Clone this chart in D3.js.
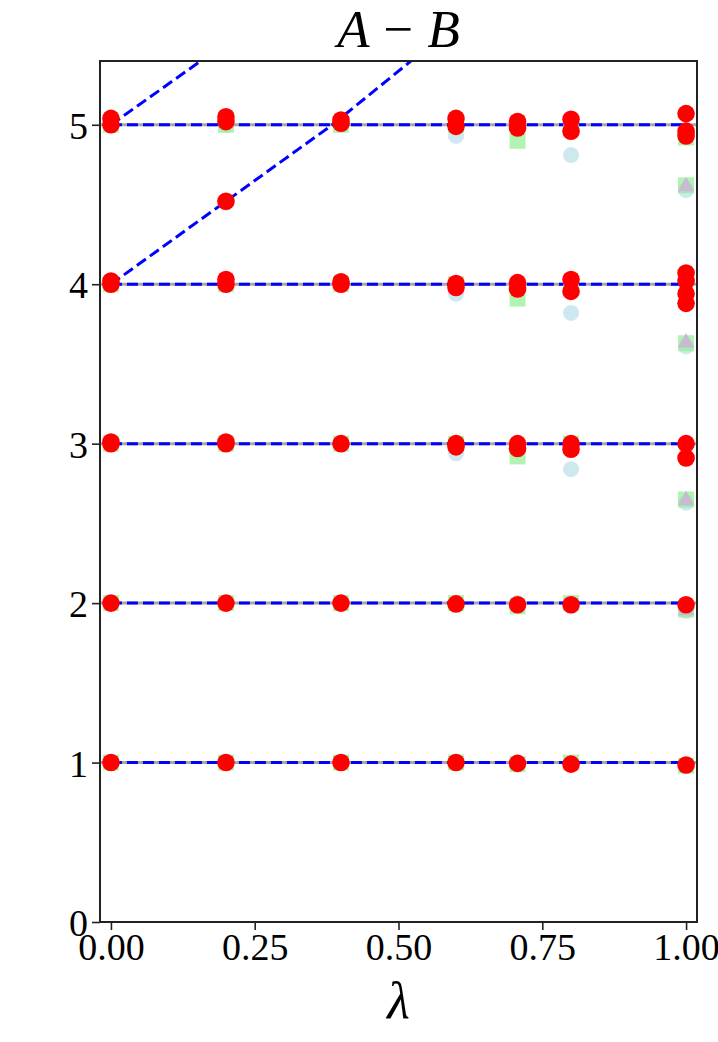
<!DOCTYPE html>
<html>
<head>
<meta charset="utf-8">
<script src="https://cdn.jsdelivr.net/npm/d3@7"></script>
<style>
  body { margin: 0; background: #fff; }
  svg { display: block; }
  text { font-family: "Liberation Serif", "Times New Roman", serif; }
</style>
</head>
<body>
<svg width="718" height="1042"></svg>
<script>
// lambda values of each column
var lambdas = [0, 0.2, 0.4, 0.6, 0.707, 0.8, 1.0];

// levels per column, one list per lambda
var redLevels = [
    [1.0, 2.0, 3.0, 3.01, 4.0, 4.02, 5.0, 5.04],
    [1.0, 2.0, 3.0, 3.01, 4.0, 4.03, 4.52, 5.02, 5.05],
    [1.0, 2.0, 3.0, 4.0, 4.015, 5.01, 5.03],
    [1.0, 1.995, 2.98, 3.0, 3.98, 4.005, 4.99, 5.04],
    [0.995, 1.99, 2.97, 3.0, 3.97, 4.01, 4.98, 5.02],
    [0.99, 1.99, 2.965, 3.0, 3.955, 4.03, 4.96, 5.035],
    [0.985, 1.99, 2.91, 3.0, 3.88, 3.94, 4.02, 4.07, 4.93, 4.96, 5.07]
];
var blueLevels = [
    [1, 2, 3, 4, 5],
    [1, 2, 3, 4, 4.51, 5],
    [1, 2, 3, 4, 5],
    [1, 2, 2.94, 3.94, 4.93],
    [1, 2, 3, 4, 5],
    [0.99, 1.98, 2.84, 3.82, 4.81],
    [0.98, 1.95, 2.63, 3.61, 4.59]
];
var greenLevels = [
    [1, 2, 3, 4, 5],
    [1, 2, 3, 4, 5],
    [1, 2, 3, 4, 5],
    [1, 2, 3, 4, 5],
    [0.99, 1.98, 2.92, 3.91, 4.9],
    [1, 2, 3, 4, 5],
    [0.98, 1.96, 2.65, 3.63, 4.62, 4.92]
];
var triangleLevels = [
    [], [], [], [], [], [],
    [1.96, 2.65, 3.64, 4.62]
];

// exact levels (flat) and the two rising branches
var flatLevels = [1, 2, 3, 4, 5];
var branchUpper = [[0, 5.0], [0.16, 5.41]];
var branchLower = [[0, 4.0], [0.2, 4.52], [0.385, 5.0], [0.525, 5.41]];

var xTicks = [0, 0.25, 0.5, 0.75, 1.0];
var yTicks = [0, 1, 2, 3, 4, 5];

(function() {
    var svg = d3.select("svg");
    var mLeft = 100, mRight = 697, mTop = 61, mBottom = 922;

    var x = d3.scaleLinear().domain([-0.019, 1.019]).range([mLeft, mRight]);
    var y = d3.scaleLinear().domain([0, 5.4]).range([mBottom, mTop]);

    svg.append("defs").append("clipPath").attr("id", "plot")
        .append("rect")
        .attr("x", mLeft).attr("y", mTop)
        .attr("width", mRight - mLeft).attr("height", mBottom - mTop);

    var plot = svg.append("g").attr("clip-path", "url(#plot)");

    // gray solid reference lines
    plot.selectAll(".ref")
        .data(flatLevels)
        .enter().append("line")
        .attr("class", "ref")
        .attr("x1", mLeft).attr("x2", mRight)
        .attr("y1", function(d) { return y(d); })
        .attr("y2", function(d) { return y(d); })
        .attr("stroke", "#a8a8a8")
        .attr("stroke-width", 3);

    // blue dashed lines
    var line = d3.line()
        .x(function(d) { return x(d[0]); })
        .y(function(d) { return y(d[1]); });

    var dashed = flatLevels.map(function(v) { return [[0, v], [1, v]]; });
    dashed.push(branchUpper, branchLower);

    plot.selectAll(".dash")
        .data(dashed)
        .enter().append("path")
        .attr("class", "dash")
        .attr("d", line)
        .attr("fill", "none")
        .attr("stroke", "#0000ff")
        .attr("stroke-width", 3)
        .attr("stroke-dasharray", "11,5");

    function flatten(levels) {
        var out = [];
        levels.forEach(function(col, i) {
            col.forEach(function(v) { out.push([lambdas[i], v]); });
        });
        return out;
    }

    // light blue circles
    plot.selectAll(".blue")
        .data(flatten(blueLevels))
        .enter().append("circle")
        .attr("class", "blue")
        .attr("cx", function(d) { return x(d[0]); })
        .attr("cy", function(d) { return y(d[1]); })
        .attr("r", 8)
        .attr("fill", "#add8e6")
        .attr("fill-opacity", 0.6);

    // light green squares
    plot.selectAll(".green")
        .data(flatten(greenLevels))
        .enter().append("rect")
        .attr("class", "green")
        .attr("x", function(d) { return x(d[0]) - 8; })
        .attr("y", function(d) { return y(d[1]) - 8; })
        .attr("width", 16).attr("height", 16)
        .attr("fill", "#90ee90")
        .attr("fill-opacity", 0.7);

    // purple triangles
    var tri = d3.symbol().type(d3.symbolTriangle).size(120);
    plot.selectAll(".tri")
        .data(flatten(triangleLevels))
        .enter().append("path")
        .attr("class", "tri")
        .attr("d", tri)
        .attr("transform", function(d) { return "translate(" + x(d[0]) + "," + (y(d[1]) + 1) + ")"; })
        .attr("fill", "#c9bad3");

    // red circles
    plot.selectAll(".red")
        .data(flatten(redLevels))
        .enter().append("circle")
        .attr("class", "red")
        .attr("cx", function(d) { return x(d[0]); })
        .attr("cy", function(d) { return y(d[1]); })
        .attr("r", 8.8)
        .attr("fill", "#ff0000");

    // axes
    var xAxis = svg.append("g")
        .attr("transform", "translate(0," + mBottom + ")")
        .call(d3.axisBottom(x).tickValues(xTicks).tickFormat(d3.format(".2f")).tickSize(8).tickPadding(3).tickSizeOuter(0));
    var yAxis = svg.append("g")
        .attr("transform", "translate(" + mLeft + ",0)")
        .call(d3.axisLeft(y).tickValues(yTicks).tickFormat(d3.format("d")).tickSize(8).tickPadding(4).tickSizeOuter(0));

    [xAxis, yAxis].forEach(function(a) {
        a.select(".domain").remove();
        a.selectAll(".tick line").attr("stroke", "#222").attr("stroke-width", 1.6);
        a.selectAll(".tick text")
            .attr("fill", "#000")
            .style("font-family", "'Liberation Serif', serif")
            .style("font-size", "38px");
    });
    yAxis.selectAll(".tick text").attr("dy", "0.36em");

    // frame
    svg.append("rect")
        .attr("x", mLeft).attr("y", mTop)
        .attr("width", mRight - mLeft).attr("height", mBottom - mTop)
        .attr("fill", "none")
        .attr("stroke", "#222")
        .attr("stroke-width", 2);

    // title
    var title = svg.append("text")
        .attr("x", (mLeft + mRight) / 2)
        .attr("y", 47)
        .attr("text-anchor", "middle")
        .style("font-size", "53px");
    title.append("tspan").style("font-style", "italic").text("A");
    title.append("tspan").attr("dx", 14).text("\u2212");
    title.append("tspan").attr("dx", 14).style("font-style", "italic").text("B");

    // x label
    svg.append("text")
        .attr("x", (mLeft + mRight) / 2)
        .attr("y", 1018)
        .attr("text-anchor", "middle")
        .style("font-size", "52px")
        .style("font-style", "italic")
        .text("\u03bb");
})();
</script>
</body>
</html>
